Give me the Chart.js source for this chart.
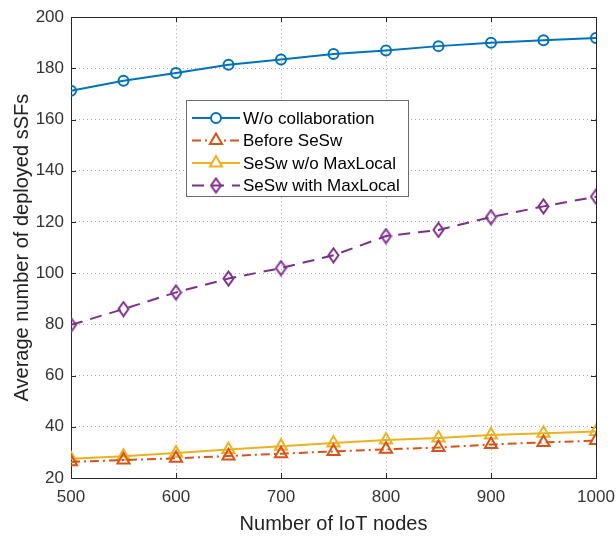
<!DOCTYPE html>
<html lang="en">
<head>
  <meta charset="UTF-8" />
  <title>Deployed sSFs vs IoT nodes</title>
  <script src="https://cdn.jsdelivr.net/npm/chart.js"></script>
  <style>
    body { margin: 0; background: #fff; }
    #wrap { width: 616px; height: 538px; }
  </style>
</head>
<body>
  <div id="wrap"><canvas id="sfChart" width="616" height="538"></canvas></div>

  <script>
    const nodes = [500, 550, 600, 650, 700, 750, 800, 850, 900, 950, 1000];
    const woCollab = [171.3, 175.2, 178.2, 181.4, 183.5, 185.6, 187.0, 188.7, 190.0, 191.0, 191.9];
    const beforeSeSw = [26.3, 27.0, 27.7, 28.6, 29.5, 30.4, 31.2, 31.9, 33.1, 33.9, 34.6];
    const sesWoMax = [27.5, 28.5, 29.8, 31.1, 32.4, 33.7, 34.8, 35.6, 36.8, 37.5, 38.2];
    const sesWithMax = [79.8, 86.0, 92.5, 97.9, 102.0, 107.0, 114.5, 116.9, 121.9, 126.1, 129.9];
    const seriesNames = ['W/o collaboration', 'Before SeSw', 'SeSw w/o MaxLocal', 'SeSw with MaxLocal'];

    const FONT = "'Liberation Sans', Arial, sans-serif";

    // matlab-style tall diamond marker
    function diamond(color) {
      const c = document.createElement('canvas');
      c.width = 13; c.height = 17;
      const g = c.getContext('2d');
      g.strokeStyle = color; g.lineWidth = 2;
      g.beginPath();
      g.moveTo(6.5, 1.5); g.lineTo(11.5, 8.5); g.lineTo(6.5, 15.5); g.lineTo(1.5, 8.5);
      g.closePath(); g.stroke();
      return c;
    }

    const pts = v => v.map((y, i) => ({ x: nodes[i], y }));
    const datasets = [
      { label: seriesNames[0], data: pts(woCollab), borderColor: '#0072BD', pointStyle: 'circle', pointRadius: 5 },
      { label: seriesNames[1], data: pts(beforeSeSw), borderColor: '#D95319', pointStyle: 'triangle', pointRadius: 7, borderDash: [9, 4, 2, 4] },
      { label: seriesNames[2], data: pts(sesWoMax), borderColor: '#EDB120', pointStyle: 'triangle', pointRadius: 7 },
      { label: seriesNames[3], data: pts(sesWithMax), borderColor: '#7E2F8E', pointStyle: diamond('#7E2F8E'), pointRadius: 7, borderDash: [12, 8] }
    ].map(d => Object.assign({
      borderWidth: 2, pointBorderWidth: 2, pointBorderColor: d.borderColor,
      pointBackgroundColor: 'rgba(0,0,0,0)', fill: false, tension: 0
    }, d));

    // axes box with inward ticks, plus the boxed legend
    const frame = {
      id: 'frame',
      beforeDatasetsDraw(chart) {
        const { ctx, chartArea: a, scales: { x, y } } = chart;
        ctx.save();
        ctx.strokeStyle = '#262626';
        ctx.lineWidth = 1;
        ctx.strokeRect(Math.round(a.left) + 0.5, Math.round(a.top) + 0.5, Math.round(a.right - a.left), Math.round(a.bottom - a.top));
        ctx.beginPath();
        x.ticks.forEach(t => {
          const px = Math.round(x.getPixelForValue(t.value)) + 0.5;
          ctx.moveTo(px, a.bottom); ctx.lineTo(px, a.bottom - 5);
          ctx.moveTo(px, a.top); ctx.lineTo(px, a.top + 5);
        });
        y.ticks.forEach(t => {
          const py = Math.round(y.getPixelForValue(t.value)) + 0.5;
          ctx.moveTo(a.left, py); ctx.lineTo(a.left + 5, py);
          ctx.moveTo(a.right, py); ctx.lineTo(a.right - 5, py);
        });
        ctx.stroke();
        ctx.restore();
      },
      afterDraw(chart) {
        const { ctx } = chart;
        const bx = 186.5, by = 100.5, bw = 222, bh = 96;
        ctx.save();
        ctx.fillStyle = '#fff';
        ctx.fillRect(bx, by, bw, bh);
        ctx.strokeStyle = '#6b6b6b';
        ctx.lineWidth = 1;
        ctx.strokeRect(bx, by, bw, bh);
        ctx.font = '17px ' + FONT;
        ctx.textBaseline = 'middle';
        chart.data.datasets.forEach((ds, i) => {
          const ry = 118 + i * 22.5;
          ctx.strokeStyle = ds.borderColor;
          ctx.lineWidth = 2;
          ctx.setLineDash(ds.borderDash || []);
          ctx.beginPath(); ctx.moveTo(192, ry); ctx.lineTo(240, ry); ctx.stroke();
          ctx.setLineDash([]);
          if (typeof ds.pointStyle === 'string') {
            ctx.fillStyle = '#fff';
            Chart.helpers.drawPoint(ctx, { pointStyle: ds.pointStyle, radius: ds.pointRadius, borderWidth: 2 }, 216, ry);
          } else {
            ctx.drawImage(ds.pointStyle, 216 - ds.pointStyle.width / 2, ry - ds.pointStyle.height / 2);
          }
          ctx.fillStyle = '#000';
          ctx.fillText(ds.label, 243, ry + 1);
        });
        ctx.restore();
      }
    };

    new Chart(document.getElementById('sfChart'), {
      type: 'line',
      data: { datasets },
      options: {
        responsive: false,
        animation: false,
        layout: { padding: { top: 15, right: 20, left: 0, bottom: 0 } },
        plugins: { legend: { display: false }, tooltip: { enabled: false } },
        scales: {
          x: {
            type: 'linear', min: 500, max: 1000,
            afterFit: s => { s.height = 60; s.paddingRight = 0; s.paddingLeft = 0; },
            ticks: { stepSize: 100, color: '#333', font: { family: FONT, size: 17 }, padding: 9, maxRotation: 0, callback: v => String(v) },
            grid: { color: 'rgba(38,38,38,0.4)', drawTicks: false, borderDash: [1, 3] },
            border: { display: false, dash: [1, 3] },
            title: { display: true, text: 'Number of IoT nodes', color: '#222', font: { family: FONT, size: 20 }, padding: { bottom: 2 } }
          },
          y: {
            min: 20, max: 200,
            afterFit: s => { s.width = 71; },
            ticks: { stepSize: 20, color: '#333', font: { family: FONT, size: 17 }, padding: 7 },
            grid: { color: 'rgba(38,38,38,0.4)', drawTicks: false, borderDash: [1, 3] },
            border: { display: false, dash: [1, 3] },
            title: { display: true, text: 'Average number of deployed sSFs', color: '#222', font: { family: FONT, size: 20 }, padding: { top: 10 } }
          }
        }
      },
      plugins: [frame]
    });
  </script>
</body>
</html>
